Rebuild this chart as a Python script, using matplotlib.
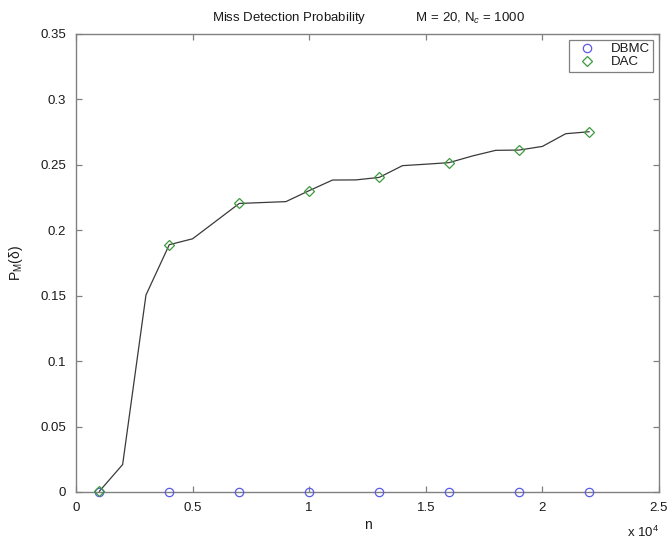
import matplotlib
matplotlib.use('Agg')
import matplotlib.pyplot as plt
from matplotlib.ticker import FuncFormatter

plt.rcParams['font.family'] = ['Liberation Sans', 'DejaVu Sans']
plt.rcParams['mathtext.fontset'] = 'custom'
plt.rcParams['mathtext.rm'] = 'Liberation Sans'
plt.rcParams['mathtext.it'] = 'Liberation Sans:italic'

# Number of samples n and the DAC miss-detection curve at every 1000 samples
n_values = [1000, 2000, 3000, 4000, 5000, 6000, 7000, 8000, 9000, 10000, 11000,
            12000, 13000, 14000, 15000, 16000, 17000, 18000, 19000, 20000, 21000, 22000]
dac_values = [0.0005, 0.021, 0.1505, 0.189, 0.1935, 0.207, 0.2205, 0.2212, 0.2219,
              0.2303, 0.2384, 0.2385, 0.2404, 0.2494, 0.2505, 0.2517, 0.2568,
              0.2611, 0.2613, 0.2641, 0.2738, 0.2753]

# Marker positions (every third n)
marker_n = [1000, 4000, 7000, 10000, 13000, 16000, 19000, 22000]
dbmc_values = [0, 0, 0, 0, 0, 0, 0, 0]
dac_marker_values = [dac_values[n_values.index(n)] for n in marker_n]

x_ticks = [0, 5000, 10000, 15000, 20000, 25000]
y_ticks = [0, 0.05, 0.1, 0.15, 0.2, 0.25, 0.3, 0.35]

W, H = 669, 540
fig = plt.figure(figsize=(W / 100, H / 100), dpi=100)
ax = fig.add_axes([76 / W, 1 - 492 / H, (659 - 76) / W, (492 - 34) / H])

ax.plot(n_values, dac_values, color='#3a3a3a', lw=0.9, zorder=2)
ax.plot(marker_n, dbmc_values, ls='none', marker='o', ms=6, mfc='none',
        mec='#5a5ae6', mew=0.9, label='DBMC', zorder=3, clip_on=False)
ax.plot(marker_n, dac_marker_values, ls='none', marker='D', ms=5.5, mfc='none',
        mec='#3d9a3d', mew=0.9, label='DAC', zorder=3, clip_on=False)

ax.set_xlim(0, 25000)
ax.set_ylim(0, 0.35)
ax.set_xticks(x_ticks)
ax.set_yticks(y_ticks)
ax.xaxis.set_major_formatter(FuncFormatter(lambda v, p: f'{v / 1e4:g}'))
ax.yaxis.set_major_formatter(FuncFormatter(lambda v, p: f'{v:g}'))

for s in ax.spines.values():
    s.set_color('#808080')
    s.set_linewidth(1.0)
ax.tick_params(direction='in', length=4, width=0.9, color='#808080',
               top=True, right=True, labelsize=9.5, labelcolor='#1a1a1a', pad=7)

ax.set_xlabel('n', fontsize=10, color='#1a1a1a', labelpad=3)
ax.set_ylabel(r'P$_{\mathregular{M}}$($\mathregular{\delta}$)', fontsize=10,
              color='#1a1a1a', labelpad=11)

ax.text(1.0, -0.088, r'x 10$^{4}$', transform=ax.transAxes, ha='right', va='center',
        fontsize=9.5, color='#1a1a1a')

fig.text(0.551, 1 - 18 / H, 'Miss Detection Probability              M = 20, N$_{c}$ = 1000',
         ha='center', va='center', fontsize=9.5, color='#1a1a1a')

leg = ax.legend(loc='upper right', fontsize=9.5, frameon=True, fancybox=False,
                borderpad=0.25, handletextpad=0.7, handlelength=2.2,
                labelspacing=0.05, borderaxespad=0.45)
leg.get_frame().set_edgecolor('#606060')
leg.get_frame().set_linewidth(0.9)
for t in leg.get_texts():
    t.set_color('#1a1a1a')

fig.savefig('out.png', dpi=100)
